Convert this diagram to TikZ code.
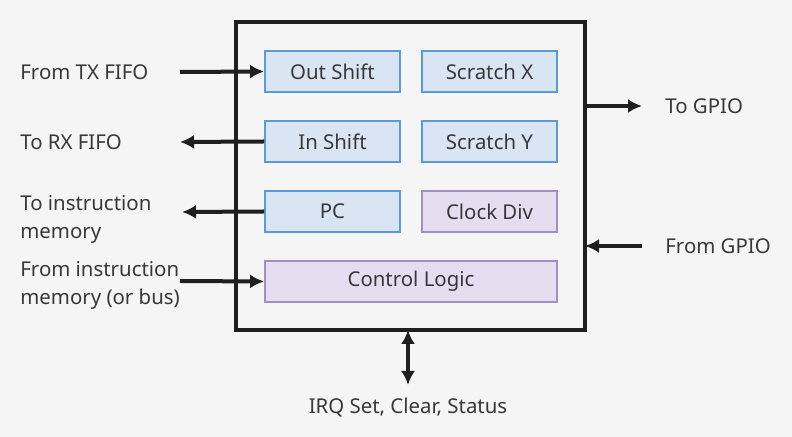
\documentclass[tikz,border=0pt]{standalone}
\usepackage{fontspec}
\setmainfont{Noto Sans}
\usepackage{xcolor}
\usetikzlibrary{arrows.meta,positioning}
\definecolor{bgcol}{HTML}{F5F5F5}
\definecolor{txtcol}{HTML}{383838}
\definecolor{regfill}{HTML}{DAE5F3}
\definecolor{regline}{HTML}{5B9BD5}
\definecolor{ctlfill}{HTML}{E4DEF0}
\definecolor{ctlline}{HTML}{A18FC4}

\begin{document}
\begin{tikzpicture}[x=0.5pt,y=-0.5pt,
  font=\fontsize{10.2}{14}\selectfont,text=txtcol,
  reg/.style={rectangle,draw=regline,fill=regfill,line width=0.9pt,minimum width=67.5pt,minimum height=20.5pt,inner sep=0pt},
  ctl/.style={reg,draw=ctlline,fill=ctlfill},
  lbl/.style={anchor=west,align=left,inner sep=0pt},
  edge/.style={-{Latex[length=7pt,width=7pt]},line width=2pt,draw=black!88}]
\useasboundingbox[fill=bgcol] (0,0) rectangle (792,437);
% state machine frame
\draw[line width=1.7pt,draw=black!88] (236,22) rectangle (585,330);
\node[reg] (outsh) at (332.5,71.5) {Out Shift};
\node[reg] (scrx) at (489.5,71.5) {Scratch X};
\node[reg] (insh) at (332.5,141.5) {In Shift};
\node[reg] (scry) at (489.5,141.5) {Scratch Y};
\node[reg] (pc) at (332.5,211.5) {PC};
\node[ctl] (clkdiv) at (489.5,211.5) {Clock Div};
\node[ctl,minimum width=146pt] (ctrl) at (411,281.5) {Control Logic};
% outside labels
\node[lbl] (txfifo) at (20,72) {From TX FIFO};
\node[lbl] (rxfifo) at (20,142) {To RX FIFO};
\node[lbl] (imemout) at (20,219) {To instruction\\memory};
\node[lbl] (imemin) at (20,285) {From instruction\\memory (or bus)};
\node[lbl] (gpioout) at (665,106) {To GPIO};
\node[lbl] (gpioin) at (665,246) {From GPIO};
\node[inner sep=0pt] (irq) at (408,407) {IRQ Set, Clear, Status};
\coordinate (txend) at (180,72);
\coordinate (rxend) at (180,142);
\coordinate (imoend) at (182,212);
\coordinate (imiend) at (180,281);
\coordinate (goend) at (642,106);
\coordinate (gostart) at (585,106);
\coordinate (giend) at (642,246);
\coordinate (gistart) at (585,246);
\coordinate (irqtop) at (408,330);
\coordinate (irqbot) at (408,385);
% connectors
\draw[edge] (txend) -- (outsh.west);
\draw[edge] (insh.west) -- (rxend);
\draw[edge] (pc.west) -- (imoend);
\draw[edge] (imiend) -- (ctrl.west);
\draw[edge] (gostart) -- (goend);
\draw[edge] (giend) -- (gistart);
\draw[edge,{Latex[length=7pt,width=7pt]}-{Latex[length=7pt,width=7pt]}] (irqtop) -- (irqbot);
\end{tikzpicture}
\end{document}
